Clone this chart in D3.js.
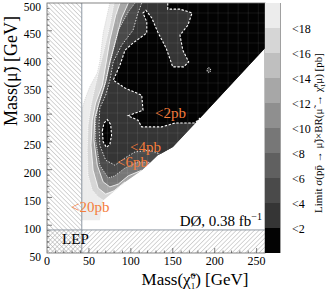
<!DOCTYPE html>
<html>
<head>
<meta charset="utf-8">
<script src="https://cdn.jsdelivr.net/npm/d3@7"></script>
<style>
body{margin:0;background:#fff;}
text{font-family:"Liberation Serif","Times New Roman",serif;fill:#000;}
</style>
</head>
<body>
<svg></svg>
<script>
const W = 329, H = 291;
const plotL = 47, plotR = 265, plotT = 3, plotB = 253;

const xDomain = [0, 260];
const yDomain = [50, 500];
const xTicks = [0, 50, 100, 150, 200, 250];
const yTicks = [50, 100, 150, 200, 250, 300, 350, 400, 450, 500];
const barEdges = [0, 2, 4, 6, 8, 10, 12, 14, 16, 18, 20];
const barLabels = ['<2', '<4', '<6', '<8', '<10', '<12', '<14', '<16', '<18'];
const barGrays = ['#030303', '#353535', '#4a4a4a', '#606060', '#777777', '#8f8f8f', '#a7a7a7', '#bfbfbf', '#d6d6d6', '#ececec'];

const lepChi = 41.5;   // LEP limit, neutralino mass
const lepSmu = 91.5;   // LEP limit, smuon mass

// lower-right rim of the scanned region (neutralino, smuon) in GeV
const rim = [[63,109],[67,145],[79,160],[93,178],[113,199],[123,213],[132,226],[135,228],[150,241],[182.5,293],[260,419],[260,500]];

// left/bottom edge of each limit band, from the top of the plot down to the rim
const band20 = [[75,500],[67,446],[63,394],[60,374],[51,349],[45,325],[41.5,307],[41.5,109]];
const band18 = [[80,500],[75,460],[68,415],[62,379],[57,347],[52.5,316],[49,280],[48,235],[49,190],[54,163],[61,151],[67,145]];
const band14 = [[87,500],[82,478],[75,433],[70,388],[66,352],[58,320],[54,289],[52.5,244],[55,199],[61,167],[70,156],[80,162],[93,178]];
const band10 = [[97,500],[89,473],[82,433],[75,394],[70,358],[63,325],[57,293],[56,253],[60,208],[67,178],[75,169],[85,174],[97,189],[113,199]];
const band6 = [[105,500],[97,484],[85,451],[79,415],[73,379],[68,347],[61,316],[58,289],[58,253],[63,208],[73,185],[81,189],[93,203],[108.5,214],[123,213]];
const band4 = [[113,500],[108.5,482],[102.6,451],[89,424],[79,394],[75,361],[70,334],[63,311],[62,280],[63,244],[70,217],[81,208],[93,221],[105,232],[123,235],[135,228]];
const band2 = [[144,500],[144,489],[158.6,489],[173,482],[168,460],[158.6,442],[162,415],[169,394],[163,385],[150,385],[142,419],[132,448],[125,473],[118,487],[114.5,482],[119,466],[119,446],[102.6,428],[93,415],[87,388],[79,361],[93,347],[113,334],[114.5,307],[96.6,297],[108.5,289],[113,277],[137,277],[152.7,284],[176.5,284],[182.5,293]];

// closed islands
const island2 = [[66,270],[68,284],[72,290],[76,281],[77,262],[75,246],[71,240],[67,250]];
const islandDot = [[191,381],[193,384],[195,381],[195,377],[193,375],[191,377]];

const labelText = ['<2pb', '<4pb', '<6pb', '<20pb'];
const labelAt = [[128.8,293],[99,232],[83.5,205],[28.6,124]];

const svg = d3.select('svg').attr('width', W).attr('height', H);
const x = d3.scaleLinear().domain(xDomain).range([plotL, plotR]);
const y = d3.scaleLinear().domain(yDomain).range([plotB, plotT]);
const line = d3.line().x(d => x(d[0])).y(d => y(d[1]));

function closeOnRim(edge){
	var last = edge[edge.length-1][0];
	return edge.concat(rim.filter(p => p[0] > last));
}

var defs = svg.append('defs');
function hatch(id, angle){
	var p = defs.append('pattern').attr('id', id)
	.attr('patternUnits', 'userSpaceOnUse')
	.attr('width', 3.2).attr('height', 3.2)
	.attr('patternTransform', 'rotate('+angle+')');
	p.append('line').attr('x1', 0).attr('y1', 0).attr('x2', 0).attr('y2', 3.2)
	.style('stroke', '#9a9a9a').style('stroke-width', 0.8);
}
hatch('hatchL', -45);
hatch('hatchR', 45);

defs.append('clipPath').attr('id', 'plotClip')
.append('rect').attr('x', plotL).attr('y', plotT)
.attr('width', plotR-plotL).attr('height', plotB-plotT);
defs.append('clipPath').attr('id', 'scanClip')
.append('path').attr('d', line(closeOnRim(band20))+'Z');

var plot = svg.append('g').attr('clip-path', 'url(#plotClip)');

// bands, lightest first
var bands = [
	{edge: band20, bin: 9, stroke: '#cfcfcf', dash: '1,1'},
	{edge: band18, bin: 8, stroke: '#fff', dash: '1,1.2'},
	{edge: band14, bin: 6, stroke: '#fff', dash: null},
	{edge: band10, bin: 4, stroke: '#fff', dash: null},
	{edge: band6, bin: 2, stroke: '#fff', dash: '1,1.3'},
	{edge: band4, bin: 1, stroke: '#fff', dash: '1.5,1.5'},
	{edge: band2, bin: 0, stroke: '#fff', dash: '2.4,1.6'}
];

plot.selectAll('path.band')
.data(bands).enter().append('path').classed('band', true)
.attr('d', d => line(closeOnRim(d.edge))+'Z')
.style('fill', d => barGrays[d.bin]);

plot.append('path').attr('d', line(island2)+'Z').style('fill', barGrays[0]);
plot.append('path').attr('d', line(islandDot)+'Z').style('fill', barGrays[1]);

// faint cell grid over the scanned region
var grid = plot.append('g').attr('clip-path', 'url(#scanClip)')
.style('stroke', 'rgba(255,255,255,0.12)').style('stroke-width', 0.7);
grid.selectAll('line.gx').data(d3.range(12, 260, 12)).enter().append('line')
.attr('x1', d => x(d)).attr('x2', d => x(d)).attr('y1', plotT).attr('y2', plotB);
grid.selectAll('line.gy').data(d3.range(68, 500, 18)).enter().append('line')
.attr('x1', plotL).attr('x2', plotR).attr('y1', d => y(d)).attr('y2', d => y(d));

// contour lines
plot.selectAll('path.contour')
.data(bands).enter().append('path').classed('contour', true)
.attr('d', d => line(d.edge))
.style('fill', 'none')
.style('stroke', d => d.stroke)
.style('stroke-width', d => d.bin == 0 ? 1.1 : 0.8)
.style('stroke-dasharray', d => d.dash);
plot.append('path').attr('d', line(island2)+'Z')
.style('fill', 'none').style('stroke', '#fff').style('stroke-width', 1.1).style('stroke-dasharray', '2.4,1.6');
plot.append('path').attr('d', line(islandDot)+'Z')
.style('fill', 'none').style('stroke', '#fff').style('stroke-width', 0.9).style('stroke-dasharray', '1.2,1');

// LEP excluded regions
plot.append('rect')
.attr('x', x(0)).attr('y', plotT).attr('width', x(lepChi)-x(0)).attr('height', plotB-plotT)
.style('fill', 'url(#hatchL)');
plot.append('rect')
.attr('x', plotL).attr('y', y(lepSmu)).attr('width', plotR-plotL).attr('height', plotB-y(lepSmu))
.style('fill', 'url(#hatchR)');
plot.append('line')
.attr('x1', x(lepChi)).attr('x2', x(lepChi)).attr('y1', plotT).attr('y2', plotB)
.style('stroke', '#8f98a3').style('stroke-width', 1);
plot.append('line')
.attr('x1', plotL).attr('x2', plotR).attr('y1', y(lepSmu)).attr('y2', y(lepSmu))
.style('stroke', '#8f98a3').style('stroke-width', 1);

// orange contour labels
svg.selectAll('text.clabel')
.data(labelText).enter().append('text').classed('clabel', true)
.attr('x', (d,i) => x(labelAt[i][0])).attr('y', (d,i) => y(labelAt[i][1]))
.style('font-size', '15px').style('fill', '#f47d3c')
.text(d => d);

svg.append('text').attr('x', x(18)).attr('y', 244)
.style('font-size', '15px').text('LEP');
var dz = svg.append('text').attr('x', 262).attr('y', 226)
.attr('text-anchor', 'end').style('font-size', '15px');
dz.append('tspan').text('DØ, 0.38 fb');
dz.append('tspan').attr('dy', -6).style('font-size', '10px').text('−1');

// frame and ticks
svg.append('rect').attr('x', plotL).attr('y', plotT)
.attr('width', plotR-plotL).attr('height', plotB-plotT)
.style('fill', 'none').style('stroke', '#666').style('stroke-width', 0.8);

var ticks = svg.append('g').style('stroke', '#444').style('stroke-width', 0.7);
ticks.selectAll('line.xt').data(d3.range(10, 260, 10)).enter().append('line')
.attr('x1', d => x(d)).attr('x2', d => x(d))
.attr('y1', plotB).attr('y2', d => plotB - (d%50==0 ? 5 : 2.5));
ticks.selectAll('line.yt').data(d3.range(60, 500, 10)).enter().append('line')
.attr('y1', d => y(d)).attr('y2', d => y(d))
.attr('x1', plotL).attr('x2', d => plotL + (d%50==0 ? 5 : 2.5));

svg.selectAll('text.xl').data(xTicks).enter().append('text')
.attr('x', d => x(d)).attr('y', 265).attr('text-anchor', 'middle')
.style('font-size', '12px').text(d => d);
svg.selectAll('text.yl').data(yTicks).enter().append('text')
.attr('x', 41).attr('y', d => y(d)+7.5).attr('text-anchor', 'end')
.style('font-size', '11.5px').text(d => d);

var xt = svg.append('text').attr('x', 195).attr('y', 285).attr('text-anchor', 'middle').style('font-size', '17px');
xt.append('tspan').text('Mass(χ\u0303');
xt.append('tspan').attr('dy', -6).style('font-size', '9px').text('0');
xt.append('tspan').attr('dx', -4.5).attr('dy', 10).style('font-size', '9px').text('1');
xt.append('tspan').attr('dy', -4).text(') [GeV]');

svg.append('text').attr('transform', 'translate(17,71) rotate(-90)')
.attr('text-anchor', 'middle').style('font-size', '18px')
.text('Mass(μ\u0303) [GeV]');

// colour bar
var yc = d3.scaleLinear().domain([0, 20]).range([plotB, plotT]);
svg.selectAll('rect.bin').data(barGrays).enter().append('rect').classed('bin', true)
.attr('x', 265).attr('width', 15)
.attr('y', (d,i) => yc(barEdges[i+1])).attr('height', (d,i) => yc(barEdges[i]) - yc(barEdges[i+1]))
.style('fill', d => d);
svg.append('line').attr('x1', 280.5).attr('x2', 280.5).attr('y1', plotT).attr('y2', plotB)
.style('stroke', '#888').style('stroke-width', 0.8);
svg.selectAll('text.bl').data(barLabels).enter().append('text')
.attr('x', 292).attr('y', (d,i) => yc(barEdges[i+1]) + 5)
.style('font-size', '12px').text(d => d);

var ct = svg.append('text').attr('transform', 'translate(322,133) rotate(-90)')
.attr('text-anchor', 'middle').style('font-size', '11px');
ct.append('tspan').text('Limit σ(pp\u0304 → μ\u0303)×BR(μ\u0303 → χ\u0303');
ct.append('tspan').attr('dy', -4).style('font-size', '7px').text('0');
ct.append('tspan').attr('dx', -3.5).attr('dy', 7).style('font-size', '7px').text('1');
ct.append('tspan').attr('dy', -3).text('μ) [pb]');
</script>
</body>
</html>
